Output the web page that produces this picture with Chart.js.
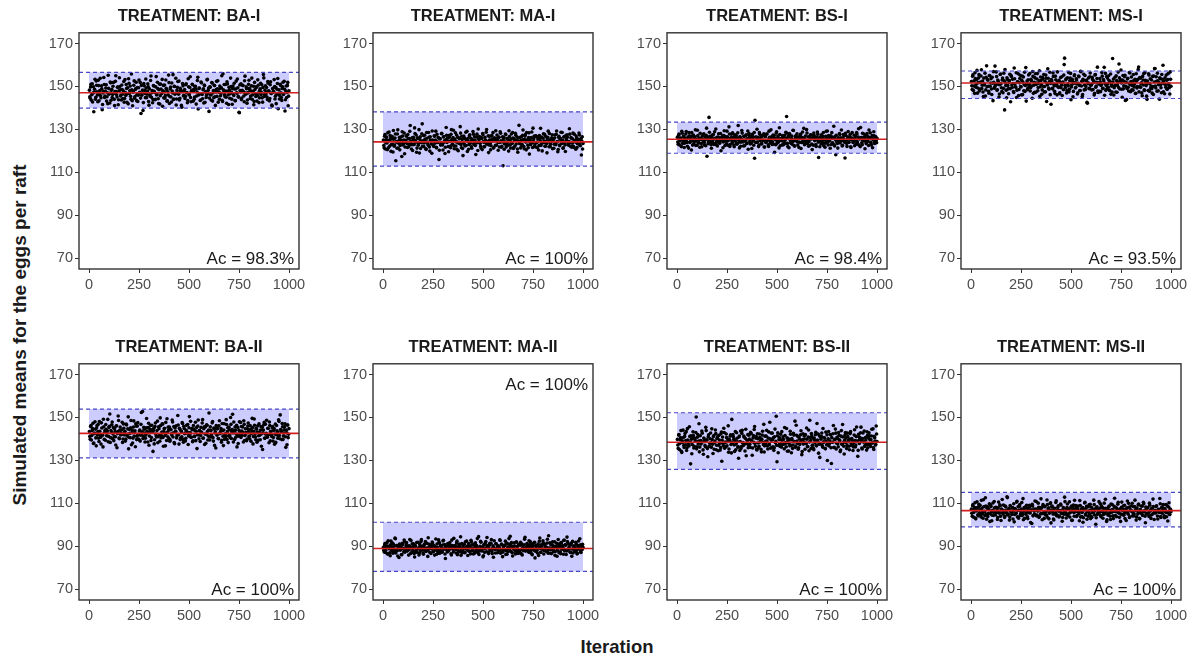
<!DOCTYPE html>
<html>
<head>
<meta charset="utf-8">
<script src="https://cdn.jsdelivr.net/npm/chart.js@4"></script>
<style>
body{margin:0;width:1197px;height:657px;overflow:hidden;background:#fff;position:relative;font-family:"Liberation Sans",Arial,sans-serif;}
.panel{position:absolute;}
#ytitle{position:absolute;left:20px;top:335px;transform:translate(-50%,-50%) rotate(-90deg);font-weight:bold;font-size:19px;white-space:nowrap;color:#1a1a1a;}
#xtitle{position:absolute;left:617px;top:647px;transform:translate(-50%,-50%);font-weight:bold;font-size:18.5px;white-space:nowrap;color:#1a1a1a;}
</style>
</head>
<body>
<div id="ytitle">Simulated means for the eggs per raft</div>
<div id="xtitle">Iteration</div>
<script>
// panel labels and summary lines
const panelTitles=["TREATMENT: BA-I","TREATMENT: MA-I","TREATMENT: BS-I","TREATMENT: MS-I","TREATMENT: BA-II","TREATMENT: MA-II","TREATMENT: BS-II","TREATMENT: MS-II"];
const accuracy=["Ac = 98.3%","Ac = 100%","Ac = 98.4%","Ac = 93.5%","Ac = 100%","Ac = 100%","Ac = 100%","Ac = 100%"];
const acAtTop=[false,false,false,false,false,true,false,false];
const meanLine=[147.1,124.2,125.4,151.6,142.6,89.0,138.5,106.6];
const bandUpper=[156.6,138.2,133.4,157.2,153.9,101.2,152.2,115.1];
const bandLower=[139.9,112.9,118.9,144.4,131.2,78.3,125.8,99.1];
const yTicks=[70,90,110,130,150,170];
const xTicks=[0,250,500,750,1000];

// simulated means at iterations 4, 8, 12 ... 1000
const baI=[
145.2,149.8,143.6,151.3,146.9,138.2,148.7,144.1,152.6,147.5,
142.9,150.4,146.2,153.8,144.7,148.9,141.6,147.8,150.9,145.5,
149.3,143.2,147.1,155.2,146.4,142.3,151.7,148.2,144.9,150.1,
146.8,141.1,152.4,147.6,145.1,149.6,143.8,154.1,148.4,146.0,
150.7,144.3,147.9,142.7,153.2,145.8,149.1,146.6,141.9,151.5,
148.0,145.4,155.8,143.4,147.3,150.6,144.5,148.6,152.0,146.3,
143.0,149.4,147.0,151.9,137.4,145.9,148.3,142.5,150.3,146.7,
153.5,144.8,147.7,149.9,141.3,146.1,152.8,145.0,148.1,143.9,
150.2,147.2,144.0,154.6,146.5,149.0,142.1,151.1,145.7,148.8,
146.9,140.8,150.5,147.4,144.6,153.0,148.5,143.3,146.0,151.8,
145.3,149.7,142.8,147.9,155.5,144.2,150.0,146.8,141.4,148.3,
152.3,146.4,143.7,149.2,147.6,140.3,151.4,145.6,148.0,144.4,
150.8,147.1,142.4,153.6,146.2,149.5,144.9,147.8,151.0,143.1,
148.7,145.1,150.1,141.8,147.4,154.3,146.0,149.3,143.5,152.1,
146.6,144.3,148.9,150.7,142.6,147.2,145.9,153.3,148.2,138.4,
149.8,146.3,143.6,151.6,147.0,144.8,150.4,141.2,148.6,145.4,
152.7,147.5,144.1,149.1,146.7,155.0,143.0,148.4,150.9,145.2,
147.9,142.2,151.2,146.1,149.6,144.5,153.9,147.3,141.7,150.2,
145.8,148.8,143.4,152.5,146.9,149.4,145.0,137.8,148.1,151.3,
144.6,150.6,147.6,142.9,154.8,146.4,149.0,143.7,147.2,152.9,
148.5,145.6,150.3,144.0,147.8,141.5,151.9,146.6,149.8,143.2,
153.1,147.0,144.7,148.9,146.2,150.8,142.7,155.6,145.3,148.3,
146.1,149.5,143.9,151.5,147.7,144.4,152.2,146.8,140.9,149.2,
147.4,150.0,145.5,142.0,148.7,153.7,146.5,144.2,151.0,147.1,
143.5,149.9,146.3,152.4,138.6,147.9,144.9,150.5,141.0,148.0];

const maI=[
122.5,126.8,120.9,125.3,123.7,128.4,121.6,124.9,127.2,119.8,
125.6,123.1,129.5,122.2,126.0,115.4,124.4,127.9,121.3,124.8,
120.5,126.5,123.9,128.9,122.8,125.1,118.7,124.1,126.9,123.4,
127.6,121.9,125.7,131.8,122.9,124.6,120.2,126.3,123.0,128.1,
124.0,119.4,126.1,122.6,129.9,125.4,121.1,123.8,132.6,124.7,
122.0,127.3,124.3,120.7,125.9,123.3,128.6,121.8,126.6,124.5,
118.9,125.0,122.4,127.0,123.6,129.2,121.4,124.2,126.2,116.0,
125.8,122.7,128.0,123.5,120.4,126.7,124.8,121.7,130.9,123.9,
124.6,119.6,126.4,122.1,127.7,125.2,123.2,129.6,121.0,125.5,
122.3,127.4,124.1,120.1,126.0,123.7,128.3,121.5,125.3,117.8,
126.9,123.0,125.6,122.5,129.1,124.4,120.8,127.1,123.4,125.9,
121.2,124.9,127.8,122.9,125.1,118.3,126.5,123.8,130.2,124.3,
125.7,122.1,126.2,120.6,127.5,124.0,121.9,125.0,128.7,123.1,
124.5,119.2,126.8,123.6,122.4,127.2,125.4,121.3,126.1,124.7,
129.4,122.6,125.2,120.3,126.4,123.9,128.2,121.7,124.2,113.1,
126.3,123.2,127.9,121.8,125.8,124.1,119.9,126.7,122.8,125.5,
123.5,128.5,121.1,125.6,122.3,127.3,124.8,120.9,126.0,131.9,
124.3,121.4,126.6,123.0,129.7,122.0,125.3,127.6,120.5,124.9,
122.7,126.2,118.5,125.1,123.7,128.8,121.6,124.6,126.9,123.2,
127.0,124.0,121.5,126.4,122.5,125.7,130.5,123.4,120.0,125.9,
123.8,127.7,122.2,124.5,119.1,126.3,124.2,128.1,121.9,125.2,
126.1,121.0,125.5,123.1,127.4,122.9,129.3,124.4,120.6,126.8,
122.4,125.8,124.7,128.6,121.2,126.5,123.6,119.7,125.0,127.5,
124.1,122.6,130.3,123.9,126.2,121.7,125.6,122.1,127.8,124.8,
120.8,126.0,123.3,125.4,128.3,122.8,124.3,118.1,126.6,123.5];

const bsI=[
124.1,127.3,122.8,126.0,125.2,129.1,123.5,126.7,121.6,125.8,
127.9,124.4,122.2,126.4,128.6,123.9,125.5,120.4,126.9,124.8,
123.2,126.2,129.8,124.6,122.6,127.1,125.0,123.7,128.2,125.9,
121.9,125.3,127.6,124.0,126.5,122.4,130.6,125.7,123.4,135.6,
126.8,124.3,121.2,127.4,125.1,123.0,128.9,125.6,122.9,126.3,
124.9,128.0,123.6,126.1,120.1,125.4,127.0,124.2,129.4,122.5,
125.8,123.3,126.6,124.7,131.2,122.1,125.9,127.8,123.8,126.2,
122.7,127.5,124.5,126.9,123.1,128.4,125.2,121.4,126.4,124.1,
129.5,125.0,122.3,126.7,124.6,127.2,123.4,125.7,120.8,128.1,
124.3,126.0,123.7,127.7,125.3,122.6,116.6,126.5,124.0,130.1,
125.6,122.0,128.5,124.9,126.3,123.2,127.3,125.1,121.8,126.8,
123.9,127.9,124.8,122.8,129.2,125.5,124.4,126.6,123.0,127.4,
126.1,119.3,125.7,128.3,123.6,126.9,124.1,130.8,122.4,125.4,
124.7,127.1,122.9,126.2,125.0,128.7,136.0,123.5,126.4,121.5,
127.6,124.2,125.8,123.1,129.6,124.6,122.2,126.7,125.3,128.0,
122.7,126.3,124.0,127.2,121.1,125.9,128.8,123.8,126.0,124.5,
125.1,129.9,123.3,126.6,124.3,122.5,127.5,125.6,120.6,126.9,
128.3,124.8,126.2,122.1,125.2,127.8,116.9,124.4,126.5,123.2,
126.0,123.6,128.6,125.5,121.7,126.8,124.2,129.3,122.8,125.7,
124.6,127.0,123.0,126.4,125.8,131.5,122.3,125.3,127.3,124.1,
121.3,125.9,128.1,123.7,126.1,124.9,122.6,127.6,125.0,116.7,
127.2,123.4,125.6,129.0,124.0,126.7,121.9,125.2,128.5,123.9,
125.4,122.4,126.9,124.5,127.9,123.1,130.3,125.8,122.0,126.2,
123.8,128.2,124.7,126.3,121.0,125.5,127.4,124.3,126.6,129.7,
126.1,124.0,122.7,127.1,125.3,128.9,123.5,126.4,124.8,125.9];

const msI=[
150.3,154.8,148.1,152.6,156.4,149.7,153.2,146.9,151.8,155.5,
148.8,152.1,157.8,150.6,147.4,153.9,151.2,145.6,154.3,149.9,
152.9,147.8,155.1,150.1,153.6,146.3,151.5,156.9,149.2,159.5,
151.0,154.6,148.5,152.4,145.1,150.8,155.8,149.4,153.0,147.1,
156.2,139.1,151.7,148.3,154.1,150.4,146.6,152.8,149.0,155.2,
150.7,153.4,147.6,158.6,151.3,149.6,144.9,152.2,155.9,148.6,
153.7,150.0,146.1,154.9,151.9,148.0,156.6,150.5,143.2,152.5,
149.1,155.4,151.1,147.9,153.3,150.2,157.0,146.8,152.0,154.0,
147.3,151.6,156.0,149.5,152.7,145.4,154.4,150.9,148.4,153.5,
155.6,150.0,147.5,153.8,151.4,158.2,149.3,152.3,146.2,141.7,
152.6,148.9,154.7,150.3,146.7,153.1,151.0,156.8,149.8,152.9,
147.0,154.2,150.6,145.8,152.1,155.3,163.2,149.5,153.6,148.2,
151.2,156.5,148.7,153.9,143.8,150.8,152.4,147.7,155.0,151.7,
149.6,153.0,146.5,151.5,154.5,148.1,157.1,150.2,145.3,153.4,
155.7,150.7,148.6,152.7,142.6,151.3,154.0,149.0,156.3,150.4,
148.4,153.2,151.8,146.0,155.4,149.7,152.0,159.0,147.2,151.1,
153.7,147.6,150.9,154.8,149.2,152.6,145.9,156.1,150.5,148.9,
151.4,155.0,148.3,152.2,146.4,150.1,163.0,153.5,149.4,154.3,
147.4,152.8,150.6,156.7,160.5,148.8,153.1,151.6,145.0,155.1,
150.3,154.6,143.5,151.9,149.1,153.8,147.9,156.5,150.8,152.3,
148.5,151.2,155.6,149.8,153.3,146.8,152.5,150.0,157.9,147.5,
154.2,149.6,151.7,145.7,153.0,156.0,148.2,152.9,150.4,144.0,
151.5,155.9,147.8,153.6,150.2,149.0,154.7,146.3,152.1,158.4,
149.3,152.4,156.2,148.0,151.8,154.1,150.7,147.1,153.4,159.9,
152.7,146.6,150.9,155.3,148.7,153.2,151.3,149.5,156.8,150.1];

const baII=[
141.2,145.8,139.5,143.9,147.3,138.1,142.7,144.6,136.8,146.2,
143.4,140.3,148.1,142.0,137.6,145.1,141.7,149.2,139.8,144.0,
146.7,141.5,143.8,138.7,145.4,151.6,140.6,143.1,147.9,142.3,
139.2,144.8,141.0,146.0,135.9,143.5,148.6,140.1,145.6,142.9,
144.3,138.4,147.0,141.9,143.6,139.9,146.5,142.2,150.3,140.8,
142.6,145.2,137.3,144.1,140.4,148.4,143.0,136.4,145.9,141.3,
147.6,140.0,143.7,139.0,146.8,142.5,152.8,141.1,144.5,138.6,
141.8,149.5,142.8,145.3,137.1,143.3,146.3,140.7,144.2,134.2,
145.0,139.6,147.4,141.4,143.9,138.2,145.7,142.1,149.8,140.5,
143.2,146.9,136.6,144.7,141.6,147.7,139.3,143.0,145.5,140.2,
138.9,144.4,142.4,148.8,140.9,145.8,137.8,143.4,146.1,141.5,
150.9,142.0,145.0,139.7,143.8,141.0,147.2,138.5,144.9,142.7,
140.3,146.4,143.1,137.4,145.2,142.2,148.2,140.8,144.3,139.1,
144.6,141.2,147.8,143.6,135.5,146.0,141.9,144.0,138.8,145.4,
142.9,149.0,140.4,145.7,142.3,138.0,146.6,143.5,141.4,152.1,
139.5,144.2,142.1,147.5,140.6,145.1,137.0,143.3,146.2,141.7,
145.9,140.1,148.5,142.6,144.8,139.4,143.9,136.9,147.1,142.0,
141.0,146.7,143.4,138.3,145.5,141.8,150.0,140.2,144.4,142.8,
147.9,139.8,144.1,142.3,136.3,145.3,141.3,148.0,143.1,140.7,
143.7,145.6,138.6,146.8,141.6,143.0,139.2,144.7,147.4,141.1,
140.0,144.5,142.5,149.6,137.7,143.6,146.4,140.9,145.0,138.5,
146.1,141.5,143.2,139.6,145.8,142.4,135.1,144.2,147.7,140.4,
142.2,148.7,140.8,144.9,138.2,146.3,143.5,141.9,145.1,139.0,
144.0,137.5,146.9,142.0,143.8,140.3,148.9,141.6,151.2,143.3,
139.7,145.7,141.4,144.3,147.0,136.1,142.9,146.5,140.6,144.8];

const maII=[
88.2,90.6,87.1,89.8,91.7,86.4,89.3,90.1,85.6,92.4,
89.6,87.7,91.0,88.5,93.8,86.9,90.3,88.0,89.9,84.8,
90.8,88.7,86.2,91.4,89.1,87.4,92.0,88.4,90.5,87.9,
89.4,85.9,90.2,88.9,92.7,87.2,89.7,91.2,86.6,90.0,
87.6,91.8,88.6,89.0,86.0,90.9,88.1,93.1,89.5,87.0,
90.4,88.3,92.2,87.8,89.2,85.3,91.1,88.8,90.7,86.7,
89.9,91.5,87.5,90.1,88.4,93.4,86.3,89.6,88.0,91.9,
86.8,90.3,89.1,87.3,92.5,88.6,90.8,84.3,89.8,88.2,
91.3,87.9,89.5,90.6,86.5,92.9,88.8,87.4,90.2,89.3,
88.5,91.6,86.1,89.7,90.9,87.6,94.4,88.3,86.9,90.4,
89.2,87.1,92.1,88.7,90.0,85.7,91.3,89.4,87.8,92.8,
90.7,88.1,86.4,91.0,89.6,87.5,90.3,93.6,88.9,86.2,
87.9,92.3,89.0,88.4,85.1,90.6,87.2,91.7,89.3,94.1,
89.8,86.6,90.5,88.0,91.4,87.7,89.1,84.9,92.6,88.6,
91.2,88.9,87.0,90.2,89.5,93.0,86.8,90.9,88.3,87.3,
88.8,90.4,92.4,87.9,86.3,89.7,91.1,88.5,94.7,87.6,
90.1,85.5,89.2,91.6,88.2,87.4,92.0,89.9,86.7,90.8,
87.2,91.9,88.6,86.0,90.3,89.0,93.3,87.8,89.6,91.3,
89.4,87.3,90.7,92.2,88.1,86.5,90.0,88.9,91.8,84.6,
90.5,88.4,86.9,91.0,89.7,93.9,87.1,90.2,88.7,92.6,
86.4,90.9,89.3,87.7,91.5,88.0,94.9,89.1,86.8,90.6,
88.9,92.1,87.5,90.0,85.8,89.8,91.4,88.2,93.2,87.0,
90.3,86.6,91.7,88.6,89.5,92.7,87.9,90.8,86.2,94.3,
88.4,91.2,89.0,87.2,90.6,85.4,92.3,88.8,90.1,87.6,
91.9,88.1,86.7,90.4,89.2,93.5,87.4,90.7,88.5,89.6];

const bsII=[
137.2,141.8,135.1,139.6,143.9,133.7,138.4,140.7,136.0,142.5,
139.3,134.6,144.8,138.1,136.7,141.2,128.4,139.9,137.4,143.3,
135.8,140.4,138.9,150.2,136.3,142.1,139.0,134.0,141.5,137.6,
143.7,138.6,132.9,140.0,137.0,145.4,139.4,135.5,141.0,136.5,
138.0,142.8,136.1,139.7,133.2,141.6,138.3,144.2,135.0,140.2,
141.3,137.1,139.5,134.8,142.4,129.6,140.9,136.8,143.0,138.2,
136.4,140.6,138.7,146.1,135.3,139.2,141.9,133.5,138.5,142.0,
139.8,134.2,143.5,137.7,140.3,136.2,131.0,141.4,138.8,135.6,
142.6,138.1,136.9,140.8,134.4,144.5,137.9,139.1,135.9,141.7,
137.5,143.1,139.3,132.4,140.5,138.4,145.8,136.6,141.1,134.9,
140.1,136.0,142.3,138.6,135.2,139.9,143.6,137.3,133.9,141.3,
138.9,144.0,136.7,140.4,137.8,147.8,135.7,139.4,142.7,136.3,
134.7,141.0,138.2,150.6,129.4,142.9,137.0,140.7,136.5,139.6,
143.4,137.4,139.8,135.4,141.6,138.0,144.9,134.3,140.2,137.9,
136.8,142.2,133.6,139.5,137.2,141.8,138.7,136.1,146.4,139.0,
141.2,135.9,140.0,138.3,143.8,132.7,139.7,137.6,141.4,135.2,
138.1,145.1,136.4,140.9,134.5,148.7,139.2,142.5,136.9,140.3,
135.0,139.4,142.0,137.0,147.2,138.8,133.4,141.5,137.7,139.9,
142.8,136.2,138.4,140.6,135.7,143.2,137.3,130.0,140.1,136.7,
139.1,141.9,128.6,138.5,142.4,136.0,139.8,144.6,135.3,140.8,
137.8,143.0,139.6,134.1,141.3,137.5,146.7,138.2,133.0,141.8,
140.4,135.5,142.7,138.7,136.6,140.0,143.4,137.1,139.3,134.6,
138.3,144.3,136.3,141.1,139.0,131.9,142.2,137.9,140.5,145.5,
135.8,140.2,138.6,143.7,136.9,139.5,134.8,141.6,137.4,142.9,
139.7,136.5,141.4,138.1,144.7,135.1,140.6,137.2,146.0,138.8];

const msII=[
105.4,108.9,103.6,107.2,110.3,102.8,106.5,108.1,104.2,109.6,
107.0,104.7,111.4,105.9,103.1,108.4,106.1,112.6,104.9,107.7,
103.9,107.5,109.8,105.2,108.6,101.9,106.8,104.4,110.9,106.0,
108.2,105.6,102.5,107.9,106.3,109.3,104.0,107.4,111.8,105.0,
106.7,103.4,108.7,105.8,113.1,104.6,107.1,102.2,109.0,106.2,
104.8,108.0,106.4,101.4,107.6,105.3,110.6,103.8,108.5,106.9,
109.5,105.1,107.3,104.3,112.2,106.6,103.0,108.3,105.7,107.8,
102.9,106.0,109.1,105.5,107.0,100.6,108.8,104.5,106.4,111.1,
107.4,104.1,106.9,110.1,103.5,108.1,105.2,107.7,102.4,109.4,
105.9,108.6,104.7,106.3,111.6,103.3,107.9,105.4,109.9,100.9,
108.4,106.1,102.7,107.6,105.0,110.4,104.2,106.8,108.9,103.7,
106.5,109.7,105.3,101.7,107.2,104.9,112.9,106.0,103.2,108.0,
104.4,107.4,110.7,105.6,108.2,102.1,106.7,109.2,104.0,107.1,
109.0,103.9,106.2,108.7,105.1,111.3,103.6,107.5,105.8,101.2,
106.9,110.2,104.6,107.8,102.6,106.3,108.5,105.2,109.6,104.1,
103.5,107.3,105.7,109.4,106.6,100.3,108.1,104.8,107.0,110.8,
107.7,104.3,108.9,106.1,103.1,107.6,105.5,111.9,106.4,102.3,
105.2,108.3,106.8,104.0,109.7,105.9,107.1,102.9,108.6,106.2,
108.0,103.8,107.4,110.5,105.4,106.9,101.6,108.2,104.7,107.3,
104.5,109.1,106.0,102.0,107.9,105.6,110.0,103.4,106.7,108.8,
106.3,104.2,108.4,105.0,111.5,107.2,103.7,106.5,109.3,105.8,
102.8,107.0,105.3,108.7,104.6,109.8,106.1,101.0,107.5,105.1,
108.1,105.7,110.1,106.4,103.0,107.7,105.0,108.5,102.5,106.8,
105.5,108.9,104.1,107.1,106.0,112.3,103.9,107.8,105.4,109.2,
107.6,103.3,106.6,109.5,105.7,101.8,108.3,104.9,107.3,106.1];

// simulated means at iterations 2, 6, 10 ... 998
const baIb=[
148.3,144.5,151.0,146.2,142.8,149.9,147.4,153.4,145.0,150.6,
146.0,152.9,143.3,148.1,145.7,150.3,139.2,147.0,154.2,144.9,
147.7,150.8,145.2,142.0,149.1,146.8,152.1,143.6,148.7,146.3,
151.9,144.0,147.6,155.0,146.1,149.7,141.5,148.0,150.0,145.6,
143.7,148.6,146.5,152.3,144.4,147.2,150.9,142.6,149.4,153.6,
146.7,150.2,144.1,148.4,141.0,147.9,152.6,145.3,149.0,143.4,
149.5,145.9,153.0,147.3,144.6,150.5,146.9,138.8,151.4,148.2,
144.8,149.3,146.4,151.2,143.0,148.9,145.5,154.9,147.1,142.4,
150.4,147.8,143.8,149.8,146.0,152.0,144.3,148.5,141.8,151.1,
146.6,153.3,148.0,144.7,150.7,145.8,149.2,143.1,147.5,155.3,
142.1,148.8,145.1,151.6,147.0,143.9,150.1,146.4,153.8,144.2,
149.6,146.9,152.5,144.5,148.3,141.2,147.7,150.3,145.9,148.6,
145.4,151.3,147.2,143.5,149.9,146.1,154.5,142.9,148.2,150.8,
147.9,144.0,150.0,148.7,145.6,152.8,139.5,149.1,146.5,143.7,
151.7,146.3,148.5,142.3,150.4,147.6,144.9,153.1,146.8,149.3,
144.6,149.7,146.0,151.8,143.2,148.1,150.6,145.2,147.4,152.4,
148.9,142.7,147.3,150.2,145.7,149.4,143.6,155.9,148.0,146.2,
150.9,145.0,152.2,147.8,141.6,148.4,146.6,150.0,144.1,149.0,
146.3,151.5,143.4,148.8,147.1,153.5,145.4,138.0,150.7,147.5,
143.9,148.2,150.4,145.6,152.7,146.9,149.8,142.2,147.0,151.0,
149.2,144.4,147.9,153.9,146.1,150.1,143.0,148.6,145.3,149.7,
145.8,150.6,142.5,148.3,151.5,147.3,144.7,149.5,154.0,146.4,
150.3,147.0,145.1,152.3,148.0,143.3,150.8,146.7,141.3,148.9,
147.6,153.2,144.2,149.6,146.3,151.4,139.6,148.4,145.7,150.5,
144.9,149.1,152.0,146.6,148.7,143.8,150.2,147.2,151.9,145.5];

const maIb=[
125.1,121.4,127.6,123.8,126.4,120.6,124.6,128.8,122.3,125.9,
123.0,126.7,119.5,125.4,122.7,127.9,124.1,121.2,129.8,123.6,
126.2,122.5,125.0,117.4,126.9,123.3,128.3,121.8,124.9,127.0,
121.6,125.7,123.1,129.1,124.4,120.9,126.1,122.9,125.3,130.7,
124.8,127.4,121.3,125.8,123.5,119.0,126.6,124.3,128.0,122.2,
127.2,123.7,125.5,121.0,128.6,124.1,122.6,126.3,119.9,125.0,
123.2,129.3,124.7,122.1,126.8,125.1,121.7,127.7,123.9,126.0,
120.3,125.6,123.4,128.2,122.8,126.5,124.0,118.8,125.2,127.3,
125.9,122.0,127.1,124.5,121.5,129.9,123.1,126.2,122.4,124.8,
128.4,124.2,120.7,126.4,123.6,125.7,131.3,122.9,126.8,121.1,
123.8,126.1,122.3,128.7,124.9,119.7,125.9,123.0,127.5,124.4,
121.9,125.3,129.0,123.3,126.6,122.5,124.0,127.8,120.2,125.6,
126.7,123.5,121.4,125.8,128.1,124.3,122.0,126.3,123.7,130.0,
124.0,127.0,122.8,125.2,120.5,126.9,124.6,128.5,121.6,125.4,
122.6,125.9,127.4,123.9,126.1,121.8,128.9,124.7,122.1,126.6,
125.5,120.8,124.2,127.6,123.0,125.6,122.7,129.4,124.9,121.3,
127.9,123.6,126.0,121.7,125.0,128.2,123.2,126.5,119.4,124.5,
123.4,126.3,124.8,122.4,127.3,125.3,121.0,126.9,124.1,128.6,
125.2,121.5,128.4,124.3,122.9,126.2,123.8,130.6,125.7,122.3,
121.8,126.8,123.9,125.5,120.4,127.1,124.7,122.5,126.4,124.0,
128.0,124.6,122.2,126.7,123.4,125.8,129.2,121.9,125.1,123.1,
124.3,127.5,125.0,121.2,126.0,123.7,127.7,124.2,119.6,126.3,
122.7,125.4,128.7,123.5,124.9,121.4,126.6,122.8,127.2,125.6,
126.5,123.0,124.4,127.8,122.1,125.9,123.6,128.3,121.7,124.7,
124.1,126.9,121.6,125.3,123.3,127.4,122.4,125.8,124.6,120.9];

const bsIb=[
126.3,123.1,127.8,124.6,125.9,122.0,128.2,124.9,126.8,123.6,
125.0,129.0,123.9,126.1,121.3,127.0,124.3,125.8,128.5,122.7,
127.4,124.1,126.6,122.5,125.3,129.6,123.8,126.0,121.7,125.5,
123.4,126.9,124.8,128.0,122.8,125.2,127.3,117.5,126.2,124.4,
128.7,125.6,122.9,126.4,124.0,127.6,123.3,125.9,130.2,124.2,
122.3,126.5,125.1,123.7,128.1,124.7,126.3,121.5,127.1,125.3,
126.7,124.5,129.2,122.6,125.6,127.9,123.0,126.1,124.8,128.4,
124.9,121.9,126.0,127.4,123.5,125.7,131.8,124.0,126.6,122.2,
125.4,128.3,124.2,126.8,122.4,125.0,127.5,123.6,129.3,125.8,
127.0,123.2,125.5,121.1,126.7,124.6,128.6,134.3,123.9,126.4,
124.0,126.2,122.7,127.7,125.2,123.4,126.9,124.7,128.0,121.8,
126.6,124.3,127.9,125.1,122.1,126.3,123.7,129.8,125.6,124.1,
123.1,127.2,125.3,122.9,128.9,124.5,126.1,121.4,127.6,125.0,
125.8,122.8,126.5,124.2,127.3,123.5,125.9,128.2,122.0,126.8,
128.1,125.1,123.6,126.9,124.4,129.5,122.5,125.6,127.0,124.6,
124.2,126.4,121.6,125.7,127.8,123.9,126.2,124.8,130.5,122.9,
126.9,123.8,128.3,124.9,122.2,126.6,125.4,127.4,123.2,125.9,
122.6,127.1,125.2,123.0,126.4,128.8,124.1,126.0,121.9,125.5,
127.5,124.4,126.8,122.4,125.1,123.6,129.1,125.7,124.3,127.2,
125.3,121.2,126.3,128.5,123.8,125.9,122.8,126.7,118.2,124.5,
123.5,126.1,124.7,127.6,125.0,129.7,122.3,125.8,126.9,124.0,
128.2,124.8,122.1,126.5,123.9,125.4,127.7,121.6,126.0,125.2,
124.4,127.3,125.9,123.1,128.6,124.2,126.4,122.7,125.6,130.9,
126.2,122.9,125.0,127.9,124.6,126.8,123.4,128.1,125.3,122.5,
125.7,128.4,123.7,126.3,121.5,125.1,127.0,124.3,126.6,123.8];

const msIb=[
152.3,148.6,155.4,150.2,146.8,153.7,151.0,157.5,149.3,154.0,
147.9,151.8,154.9,149.0,152.5,145.3,150.7,156.2,148.4,159.6,
153.4,150.1,146.9,155.0,151.6,148.8,154.3,143.4,152.0,149.7,
150.5,156.8,148.2,153.0,150.9,146.5,155.6,151.3,147.6,153.9,
149.1,152.7,157.9,150.4,144.7,153.3,148.9,151.9,155.7,142.9,
154.6,149.5,151.4,147.2,153.6,150.0,156.4,148.3,152.2,145.8,
151.7,155.2,149.8,152.9,146.2,154.4,150.8,147.7,158.8,151.2,
148.5,153.1,150.3,156.0,149.4,152.6,144.5,154.7,150.6,147.3,
155.9,150.9,153.5,148.0,151.5,157.3,149.9,152.8,146.4,154.2,
150.0,147.4,152.4,155.3,143.0,150.7,153.8,148.7,156.6,151.4,
153.2,149.2,156.3,151.1,147.8,154.8,150.4,146.1,152.3,149.6,
146.6,152.0,149.4,154.5,151.8,148.5,160.2,150.6,153.1,147.0,
154.0,150.3,147.5,152.7,156.1,149.8,153.4,145.2,151.5,155.4,
149.3,153.6,151.2,147.1,154.9,150.5,148.1,156.9,152.4,146.3,
152.8,148.4,155.1,150.0,153.0,142.2,151.7,149.1,154.5,150.8,
151.0,154.3,148.6,152.5,146.8,155.5,150.2,153.7,147.9,151.6,
147.7,152.2,150.5,156.5,149.0,153.2,158.9,151.3,148.2,154.6,
153.9,149.7,152.9,148.0,155.8,150.9,147.4,152.1,146.0,150.3,
150.6,155.0,147.3,151.9,149.5,154.0,152.6,157.7,148.7,153.0,
148.9,152.3,155.2,150.1,143.9,153.5,149.6,151.5,156.3,147.6,
154.4,150.4,148.3,152.8,151.1,146.7,155.9,149.3,153.3,159.1,
149.9,153.8,151.2,147.0,154.7,150.7,148.4,156.4,152.0,145.5,
152.5,148.1,155.3,151.4,149.2,153.1,146.9,150.0,154.9,158.3,
150.2,154.5,147.8,152.6,150.8,144.1,153.6,149.4,155.6,151.7,
147.5,151.3,154.1,149.7,152.9,148.8,156.0,150.5,146.5,153.4];

const baIIb=[
143.5,139.9,146.3,141.6,144.9,137.9,142.4,148.0,140.5,145.1,
141.8,146.8,138.8,143.6,140.8,147.5,142.1,136.3,145.7,143.0,
139.4,144.5,142.8,149.1,141.2,145.9,138.4,143.9,146.6,140.1,
145.3,141.0,143.4,137.2,146.1,142.5,150.7,140.4,144.2,141.9,
142.0,147.8,140.0,145.0,143.2,139.0,146.9,141.5,144.7,135.4,
144.4,140.6,148.6,142.9,138.1,145.6,141.3,143.8,147.0,139.7,
146.0,142.2,139.6,144.1,141.7,152.3,143.3,140.2,145.4,142.7,
140.3,145.2,143.7,138.6,147.3,141.4,144.5,139.3,146.4,143.1,
143.9,137.7,145.8,142.3,140.9,148.3,141.1,144.8,138.9,146.2,
141.6,147.1,140.7,143.5,145.0,136.8,142.6,149.4,141.0,144.0,
145.5,139.5,144.3,141.8,147.9,142.9,138.3,145.1,143.6,140.5,
142.1,146.5,137.6,144.6,140.4,143.4,147.6,139.8,145.9,142.4,
139.1,144.0,142.7,146.7,141.4,150.4,143.0,140.8,144.9,138.7,
146.3,141.2,143.8,139.2,145.3,142.0,148.8,140.1,143.7,141.6,
143.2,147.4,140.3,144.8,137.4,145.6,142.2,146.4,139.5,144.1,
140.9,145.7,143.9,141.1,148.1,139.0,144.6,142.8,135.8,145.0,
144.7,140.2,146.1,142.5,143.5,138.5,147.2,141.3,144.2,139.9,
142.4,149.0,139.7,145.2,141.5,144.3,140.6,146.8,143.3,151.5,
138.6,143.6,145.6,140.8,146.4,142.1,137.9,144.0,141.9,147.7,
145.8,141.7,143.0,148.5,139.3,144.7,142.6,140.0,146.0,143.4,
141.4,146.2,138.9,143.8,145.3,141.1,149.3,142.3,139.6,144.5,
143.1,139.4,147.0,141.7,144.2,136.6,145.5,142.9,146.6,140.3,
146.9,142.6,140.9,145.0,142.0,147.9,139.1,143.5,141.2,145.8,
140.7,144.9,142.3,138.4,146.3,143.2,141.6,148.2,140.1,144.4,
143.6,147.2,139.8,142.7,145.7,141.0,144.1,137.3,146.5,142.2];

const maIIb=[
89.5,87.4,91.3,88.1,90.2,86.5,92.6,88.9,87.0,90.7,
88.3,91.6,86.8,89.9,87.7,93.5,88.6,90.4,85.5,89.1,
91.0,88.2,89.7,86.1,90.8,88.8,92.9,87.3,89.4,91.7,
87.9,90.1,88.4,93.2,86.6,89.6,91.2,88.0,90.6,85.0,
90.3,88.7,87.2,91.9,89.3,86.9,90.0,92.3,88.5,89.8,
86.3,90.9,89.2,87.6,91.4,88.1,94.0,89.5,87.1,90.5,
89.0,92.0,87.8,90.3,85.9,89.7,88.2,91.1,86.7,93.0,
91.5,88.0,89.9,87.5,90.6,92.8,88.9,86.4,90.0,88.6,
87.4,90.8,88.3,91.8,89.1,86.0,90.4,88.7,93.7,89.3,
90.2,86.9,92.4,88.5,87.3,90.9,89.6,85.8,91.3,88.0,
88.8,91.0,87.0,89.4,92.5,88.2,90.1,87.7,89.9,86.5,
92.1,89.2,88.0,90.7,86.8,91.6,88.4,89.8,87.1,94.5,
88.1,90.0,91.9,87.8,89.6,85.6,90.8,88.9,92.2,87.5,
90.4,87.2,89.0,91.4,88.3,93.1,86.6,90.2,89.5,88.6,
86.9,91.2,88.7,90.0,87.9,89.3,92.7,88.1,90.9,85.2,
89.7,88.4,90.6,86.2,91.5,88.9,87.6,93.6,89.1,90.3,
91.7,87.0,89.4,88.6,90.1,86.4,92.0,88.8,87.4,90.8,
88.2,90.5,86.7,91.1,89.2,88.0,90.7,94.2,87.9,89.6,
90.0,88.5,92.6,87.1,89.8,91.3,86.1,90.4,88.3,91.9,
87.7,89.9,88.2,90.6,85.7,92.4,89.0,87.3,90.9,88.7,
91.4,88.1,90.2,87.9,89.5,93.3,86.8,89.2,91.6,88.4,
86.6,90.7,89.3,88.0,92.1,87.6,90.0,85.4,89.7,91.0,
89.4,87.5,91.8,88.9,90.3,86.3,92.9,88.5,90.5,87.8,
92.2,88.3,89.6,90.8,87.2,91.5,88.7,86.9,90.1,89.2,
88.0,91.1,86.5,89.8,92.5,88.6,90.6,87.1,89.4,90.9];

const bsIIb=[
139.8,135.6,142.1,137.9,140.6,134.3,139.1,144.1,136.9,141.2,
137.3,143.4,135.9,139.5,137.0,145.7,138.6,141.5,133.1,140.3,
141.6,136.6,139.7,143.0,135.4,140.8,137.7,147.1,136.2,139.3,
138.4,142.7,134.9,140.4,138.9,136.4,143.9,139.6,131.7,141.9,
136.7,140.1,138.2,144.7,137.5,141.1,135.2,139.0,142.5,137.1,
140.5,134.5,141.7,138.0,136.0,143.2,139.4,137.8,145.0,135.7,
138.6,142.3,136.8,140.0,133.8,139.7,141.3,137.4,149.1,138.1,
141.0,137.2,139.2,135.0,142.9,138.7,136.3,140.9,134.6,143.7,
136.5,144.0,138.3,141.4,137.6,140.2,132.2,139.5,142.0,137.0,
139.9,136.1,142.6,138.8,135.8,141.6,144.4,137.9,140.4,135.1,
142.4,138.1,136.6,140.7,139.3,134.0,141.8,138.5,146.8,136.8,
137.7,141.3,139.0,135.3,143.3,137.3,140.1,142.8,136.0,139.6,
140.6,135.9,144.6,138.9,137.1,141.5,133.6,139.8,137.6,142.2,
136.2,139.4,141.0,137.5,145.3,138.3,136.4,140.5,139.1,134.4,
139.5,143.6,137.0,140.2,135.6,142.6,138.8,148.3,136.7,141.7,
138.0,135.2,140.9,137.4,141.9,139.3,134.1,142.4,138.4,140.0,
142.0,137.8,139.9,136.5,144.2,138.6,140.7,135.5,141.4,137.2,
135.7,140.4,138.2,143.1,136.8,139.5,142.3,137.6,131.4,140.8,
141.2,136.9,144.9,138.7,140.3,135.4,139.0,141.9,137.3,143.5,
137.9,142.1,135.9,140.6,138.5,146.3,136.1,139.7,142.7,138.0,
140.1,136.4,141.6,139.2,134.8,143.9,137.7,140.9,136.6,139.4,
143.0,138.3,136.9,141.1,139.6,135.0,142.5,138.1,140.2,137.0,
136.3,141.8,139.3,137.2,145.6,138.9,134.7,141.0,139.8,142.9,
139.1,135.3,142.8,138.6,136.5,140.7,137.5,143.3,135.9,140.5,
141.5,137.6,139.6,144.5,138.2,136.0,141.2,139.0,137.4,142.3];

const msIIb=[
107.3,104.0,109.4,105.8,108.0,103.2,106.9,110.7,104.7,108.4,
105.6,109.0,103.7,107.6,105.1,111.7,106.3,104.3,108.8,102.6,
108.5,105.3,107.0,101.5,109.3,106.1,104.5,110.2,105.9,107.9,
104.6,108.1,106.6,103.5,110.6,105.4,108.9,102.0,107.1,105.7,
109.2,106.0,104.1,108.3,106.8,112.7,105.0,107.7,103.6,106.4,
105.9,107.8,102.7,109.8,104.8,107.2,105.5,111.0,106.7,103.1,
108.7,104.4,106.2,110.4,105.3,102.4,108.0,106.5,104.9,109.1,
103.8,107.5,105.6,108.6,101.1,106.8,109.6,104.2,107.3,105.0,
107.0,110.9,104.6,106.4,108.2,103.9,106.9,112.1,105.2,108.5,
105.3,103.0,108.4,106.0,104.4,109.5,107.6,102.8,106.6,110.3,
106.9,108.8,105.0,102.3,107.7,105.6,111.2,104.7,108.1,106.3,
104.1,106.7,109.2,105.4,103.4,108.0,106.1,110.8,104.9,107.4,
109.7,105.2,107.1,103.6,106.5,108.7,102.1,107.9,105.7,111.4,
106.1,108.3,104.3,107.4,105.9,101.9,109.0,106.6,103.9,108.0,
103.3,107.2,110.5,105.1,108.6,106.2,104.0,109.3,106.8,102.9,
108.2,105.7,106.9,111.5,104.6,107.5,103.3,108.4,105.4,106.0,
105.8,109.9,103.8,106.4,108.1,104.8,110.1,105.2,107.7,101.6,
107.6,104.5,108.7,105.5,102.5,106.9,109.4,104.2,106.3,112.4,
104.3,107.9,106.0,109.6,105.9,103.5,107.4,105.0,110.6,106.7,
108.9,105.3,102.9,107.3,106.2,111.1,104.9,108.2,103.7,107.0,
106.4,110.0,105.6,104.1,108.5,106.7,102.2,107.8,105.1,109.7,
103.0,107.1,108.8,106.1,104.4,110.5,106.5,104.0,108.3,105.3,
107.8,105.0,103.9,109.1,106.9,104.6,107.6,112.0,105.5,106.2,
105.7,108.6,106.3,102.7,107.2,105.8,109.8,103.4,108.1,106.6,
109.5,104.2,107.5,105.9,103.8,108.7,106.1,110.3,104.8,107.1];

const drawsA=[baI,maI,bsI,msI,baII,maII,bsII,msII];
const drawsB=[baIb,maIb,bsIb,msIb,baIIb,maIIb,bsIIb,msIIb];

// iteration numbers of the kept draws
const iterationsA=[];
const iterationsB=[];
for(let it=4;it<=1000;it+=4){
iterationsA.push(it);
iterationsB.push(it-2);
}

Chart.defaults.font.family="'Liberation Sans', Arial, sans-serif";

const frame={
id:"frame",
afterDraw(chart,args,opts){
const a=chart.chartArea;
const ctx=chart.ctx;
ctx.save();
ctx.strokeStyle="#333";
ctx.lineWidth=1.4;
ctx.strokeRect(a.left,a.top,a.right-a.left,a.bottom-a.top);
ctx.font="17px 'Liberation Sans', Arial, sans-serif";
ctx.fillStyle="#1a1a1a";
ctx.textAlign="right";
ctx.textBaseline="middle";
const y=acAtTop[opts.index]?a.top+22:a.bottom-10;
ctx.fillText(accuracy[opts.index],a.right-5,y);
ctx.restore();
}
};

function makePanel(i){

const col=i%4;
const row=Math.floor(i/4);

const div=document.createElement("div");
div.className="panel";
div.style.left=(39+col*294)+"px";
div.style.top=(row*331)+"px";

const canvas=document.createElement("canvas");
canvas.width=280;
canvas.height=299;
div.appendChild(canvas);
document.body.appendChild(div);

const pts=drawsA[i].map((v,k)=>({x:iterationsA[k],y:v}))
.concat(drawsB[i].map((v,k)=>({x:iterationsB[k],y:v})));

new Chart(canvas,{
type:"scatter",
data:{
datasets:[
{
data:[{x:-50,y:meanLine[i]},{x:1050,y:meanLine[i]}],
showLine:true,
borderColor:"#d42020",
borderWidth:1.6,
pointRadius:0,
order:0
},
{
data:[{x:-50,y:bandUpper[i]},{x:1050,y:bandUpper[i]}],
showLine:true,
borderColor:"#4646c8",
borderWidth:1.2,
borderDash:[4,3],
pointRadius:0,
order:1
},
{
data:[{x:-50,y:bandLower[i]},{x:1050,y:bandLower[i]}],
showLine:true,
borderColor:"#4646c8",
borderWidth:1.2,
borderDash:[4,3],
pointRadius:0,
order:1
},
{
data:pts,
pointRadius:1.8,
pointBackgroundColor:"#000",
pointBorderWidth:0,
order:2
},
{
data:[{x:0,y:bandUpper[i]},{x:1000,y:bandUpper[i]}],
showLine:true,
borderColor:"transparent",
borderWidth:0,
pointRadius:0,
fill:{value:bandLower[i]},
backgroundColor:"rgba(0,0,255,0.2)",
order:3
}
]
},
options:{
responsive:false,
animation:false,
layout:{padding:{left:0,right:20,top:0,bottom:0}},
plugins:{
legend:{display:false},
tooltip:{enabled:false},
title:{
display:true,
text:panelTitles[i],
fullSize:false,
color:"#1a1a1a",
font:{size:16.5,weight:"bold"},
padding:{top:7,bottom:6}
},
frame:{index:i}
},
scales:{
x:{
type:"linear",
min:-50,
max:1050,
afterBuildTicks:s=>{s.ticks=xTicks.map(v=>({value:v}));},
afterFit:s=>{s.height=30;},
grid:{drawOnChartArea:false,drawTicks:true,tickLength:4,color:"#333"},
border:{display:false},
ticks:{font:{size:14.5},color:"#4d4d4d",padding:3,maxRotation:0,autoSkip:false,callback:v=>String(v)}
},
y:{
type:"linear",
min:65,
max:175,
afterBuildTicks:s=>{s.ticks=yTicks.map(v=>({value:v}));},
afterFit:s=>{s.width=40;},
grid:{drawOnChartArea:false,drawTicks:true,tickLength:4,color:"#333"},
border:{display:false},
ticks:{font:{size:14.5},color:"#4d4d4d",padding:2,callback:v=>String(v)}
}
}
},
plugins:[frame]
});

}

for(let i=0;i<8;i++) makePanel(i);
</script>
</body>
</html>
